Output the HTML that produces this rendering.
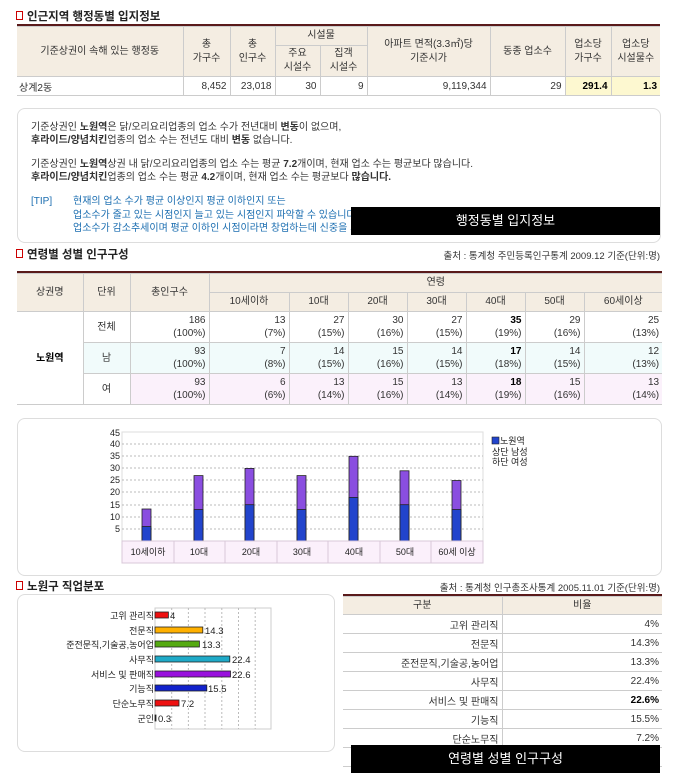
<!DOCTYPE html><html><head><meta charset="utf-8"><style>
*{margin:0;padding:0;box-sizing:border-box}
body{width:680px;height:773px;position:relative;background:#fff;font-family:"Liberation Sans","Noto Sans CJK KR",sans-serif;font-size:10px;color:#333;overflow:hidden}
.a{position:absolute}
.t{font-weight:bold;font-size:11.5px;color:#222}
.t:before{content:"";display:inline-block;width:5px;height:7px;border:1px solid #c00;background:#fff;margin-right:4px;vertical-align:0}
table{border-collapse:collapse;position:absolute;table-layout:fixed}
td{border:1px solid #ccc;font-size:10px;color:#333;overflow:hidden;white-space:nowrap}
.h td{background:#f4ede2;text-align:center;line-height:14px}
.r{text-align:right;padding-right:3px}
.blk{position:absolute;background:#000;color:#fff;font-size:13px;text-align:center}
.box{position:absolute;border:1px solid #ddd;border-radius:8px}
</style></head><body>
<div class="a t" style="left:16px;top:8px">인근지역 행정동별 입지정보</div>
<div class="a" style="left:17px;top:24px;width:643px;height:2px;background:#5a1a1a"></div>
<table style="left:17px;top:26px;width:643px">
<colgroup><col style="width:166px"><col style="width:47px"><col style="width:45px"><col style="width:45px"><col style="width:47px"><col style="width:123px"><col style="width:75px"><col style="width:46px"><col style="width:49px"></colgroup>
<tr class="h" style="height:19px"><td rowspan="2" style="border-left:0">기준상권이 속해 있는 행정동</td><td rowspan="2">총<br>가구수</td><td rowspan="2">총<br>인구수</td><td colspan="2">시설물</td><td rowspan="2">아파트 면적(3.3㎡)당<br>기준시가</td><td rowspan="2">동종 업소수</td><td rowspan="2">업소당<br>가구수</td><td rowspan="2" style="border-right:0">업소당<br>시설물수</td></tr>
<tr class="h" style="height:31px"><td>주요<br>시설수</td><td>집객<br>시설수</td></tr>
<tr style="height:19px"><td style="border-left:0;padding-left:2px">상계2동</td><td class="r">8,452</td><td class="r">23,018</td><td class="r">30</td><td class="r">9</td><td class="r">9,119,344</td><td class="r">29</td><td class="r" style="background:#fdf8d0;font-weight:bold;color:#000">291.4</td><td class="r" style="background:#fdf8d0;font-weight:bold;color:#000;border-right:0">1.3</td></tr>
</table>
<div class="box" style="left:17px;top:108px;width:644px;height:135px"></div>
<div class="a" style="left:31px;top:121px;font-size:10px;line-height:13px;color:#333">기준상권인 <b>노원역</b>은 닭/오리요리업종의 업소 수가 전년대비 <b>변동</b>이 없으며,<br><b>후라이드/양념치킨</b>업종의 업소 수는 전년도 대비 <b>변동</b> 없습니다.</div>
<div class="a" style="left:31px;top:158px;font-size:10px;line-height:13px;color:#333">기준상권인 <b>노원역</b>상권 내 닭/오리요리업종의 업소 수는 평균 <b>7.2</b>개이며, 현재 업소 수는 평균보다 많습니다.<br><b>후라이드/양념치킨</b>업종의 업소 수는 평균 <b>4.2</b>개이며, 현재 업소 수는 평균보다 <b>많습니다.</b></div>
<div class="a" style="left:31px;top:195px;font-size:10px;line-height:13.5px;color:#1a6db0">[TIP]</div>
<div class="a" style="left:73px;top:195px;font-size:10px;line-height:13.5px;color:#1a6db0">현재의 업소 수가 평균 이상인지 평균 이하인지 또는<br>업소수가 줄고 있는 시점인지 늘고 있는 시점인지 파악할 수 있습니다.<br>업소수가 감소추세이며 평균 이하인 시점이라면 창업하는데 신중을 기해</div>
<div class="blk" style="left:351px;top:207px;width:309px;height:28px;line-height:28px">행정동별 입지정보</div>

<div class="a t" style="left:16px;top:246px">연령별 성별 인구구성</div>
<div class="a" style="right:20px;top:248px;font-size:9.5px;color:#333">출처 : 통계청 주민등록인구통계 2009.12 기준(단위:명)</div>
<div class="a" style="left:17px;top:271px;width:645px;height:2px;background:#5a1a1a"></div>
<table style="left:17px;top:273px;width:645px">
<colgroup><col style="width:66px"><col style="width:47px"><col style="width:79px"><col style="width:80px"><col style="width:59px"><col style="width:59px"><col style="width:59px"><col style="width:59px"><col style="width:59px"><col style="width:78px"></colgroup>
<tr class="h" style="height:19px"><td rowspan="2" style="border-left:0">상권명</td><td rowspan="2">단위</td><td rowspan="2">총인구수</td><td colspan="7" style="border-right:0">연령</td></tr>
<tr class="h" style="height:19px"><td>10세이하</td><td>10대</td><td>20대</td><td>30대</td><td>40대</td><td>50대</td><td style="border-right:0">60세이상</td></tr>
<tr style="height:31px;line-height:13px"><td rowspan="3" style="text-align:center;font-weight:bold;color:#000;border-left:0">노원역</td><td style="text-align:center">전체</td><td class="r">186<br>(100%)</td><td class="r">13<br>(7%)</td><td class="r">27<br>(15%)</td><td class="r">30<br>(16%)</td><td class="r">27<br>(15%)</td><td class="r"><b style="color:#000">35</b><br>(19%)</td><td class="r">29<br>(16%)</td><td class="r" style="border-right:0">25<br>(13%)</td></tr>
<tr style="height:31px;line-height:13px;background:#f1fbfb"><td style="text-align:center">남</td><td class="r">93<br>(100%)</td><td class="r">7<br>(8%)</td><td class="r">14<br>(15%)</td><td class="r">15<br>(16%)</td><td class="r">14<br>(15%)</td><td class="r"><b style="color:#000">17</b><br>(18%)</td><td class="r">14<br>(15%)</td><td class="r" style="border-right:0">12<br>(13%)</td></tr>
<tr style="height:31px;line-height:13px;background:#fbf1fb"><td style="text-align:center;background:#fff">여</td><td class="r">93<br>(100%)</td><td class="r">6<br>(6%)</td><td class="r">13<br>(14%)</td><td class="r">15<br>(16%)</td><td class="r">13<br>(14%)</td><td class="r"><b style="color:#000">18</b><br>(19%)</td><td class="r">15<br>(16%)</td><td class="r" style="border-right:0">13<br>(14%)</td></tr>
</table>

<div class="box" style="left:17px;top:418px;width:645px;height:158px"></div>
<svg class="a" style="left:0;top:0" width="680" height="773" font-family="Liberation Sans,Noto Sans CJK KR,sans-serif">
<g font-size="9" fill="#222" text-anchor="end">
<rect x="122" y="432" width="361" height="109" fill="#fff" stroke="#ddd"/>
<g stroke="#bbb" stroke-dasharray="2,2">
<line x1="122" y1="444" x2="483" y2="444"/><line x1="122" y1="456" x2="483" y2="456"/><line x1="122" y1="468" x2="483" y2="468"/><line x1="122" y1="480" x2="483" y2="480"/><line x1="122" y1="492" x2="483" y2="492"/><line x1="122" y1="505" x2="483" y2="505"/><line x1="122" y1="517" x2="483" y2="517"/><line x1="122" y1="529" x2="483" y2="529"/></g>
<text x="120" y="436">45</text><text x="120" y="447">40</text><text x="120" y="459">35</text><text x="120" y="471">30</text><text x="120" y="483">25</text><text x="120" y="495">20</text><text x="120" y="508">15</text><text x="120" y="520">10</text><text x="120" y="532">5</text>
</g>
<g stroke="#222" stroke-width="0.8">
<rect x="142" y="509" width="9" height="32" fill="#8a4ee0"/><rect x="142" y="526.5" width="9" height="14.5" fill="#2244cc"/>
<rect x="194" y="475.6" width="9" height="65.4" fill="#8a4ee0"/><rect x="194" y="509.5" width="9" height="31.5" fill="#2244cc"/>
<rect x="245" y="468.4" width="9" height="72.6" fill="#8a4ee0"/><rect x="245" y="504.7" width="9" height="36.3" fill="#2244cc"/>
<rect x="297" y="475.6" width="9" height="65.4" fill="#8a4ee0"/><rect x="297" y="509.5" width="9" height="31.5" fill="#2244cc"/>
<rect x="349" y="456.3" width="9" height="84.7" fill="#8a4ee0"/><rect x="349" y="497.4" width="9" height="43.6" fill="#2244cc"/>
<rect x="400" y="470.8" width="9" height="70.2" fill="#8a4ee0"/><rect x="400" y="504.7" width="9" height="36.3" fill="#2244cc"/>
<rect x="452" y="480.5" width="9" height="60.5" fill="#8a4ee0"/><rect x="452" y="509.5" width="9" height="31.5" fill="#2244cc"/>
</g>
<g fill="#fbf0fb" stroke="#d8c8d8">
<rect x="122" y="541" width="52" height="22"/><rect x="174" y="541" width="51" height="22"/><rect x="225" y="541" width="52" height="22"/><rect x="277" y="541" width="51" height="22"/><rect x="328" y="541" width="52" height="22"/><rect x="380" y="541" width="51" height="22"/><rect x="431" y="541" width="52" height="22"/></g>
<g font-size="9" fill="#222" text-anchor="middle">
<text x="148" y="555">10세이하</text><text x="199" y="555">10대</text><text x="251" y="555">20대</text><text x="302" y="555">30대</text><text x="354" y="555">40대</text><text x="405" y="555">50대</text><text x="457" y="555">60세 이상</text></g>
<rect x="492" y="437" width="7" height="7" fill="#2244cc" stroke="#222" stroke-width="0.6"/>
<g font-size="9" fill="#222"><text x="500" y="444">노원역</text><text x="492" y="455">상단 남성</text><text x="492" y="465">하단 여성</text></g>

<rect x="155" y="608" width="116" height="121" fill="#fff" stroke="#ccc"/>
<g stroke="#bbb" stroke-dasharray="2,2"><line x1="171.7" y1="608" x2="171.7" y2="729"/><line x1="188.4" y1="608" x2="188.4" y2="729"/><line x1="205" y1="608" x2="205" y2="729"/><line x1="221.8" y1="608" x2="221.8" y2="729"/><line x1="238.5" y1="608" x2="238.5" y2="729"/><line x1="255.2" y1="608" x2="255.2" y2="729"/></g>
<g stroke="#222" stroke-width="0.8">
<rect x="155" y="612" width="13.4" height="6" fill="#ee1111"/>
<rect x="155" y="627" width="47.8" height="6" fill="#ffb000"/>
<rect x="155" y="641" width="44.4" height="6" fill="#55aa11"/>
<rect x="155" y="656" width="74.8" height="6" fill="#1faac8"/>
<rect x="155" y="671" width="75.5" height="6" fill="#9911dd"/>
<rect x="155" y="685" width="51.8" height="6" fill="#1122cc"/>
<rect x="155" y="700" width="24" height="6" fill="#ee1111"/>
<rect x="155" y="715" width="1" height="6" fill="#222"/>
</g>
<g font-size="9.5" fill="#222">
<text x="170" y="619">4</text><text x="205" y="634">14.3</text><text x="202" y="648">13.3</text><text x="232" y="663">22.4</text><text x="232" y="678">22.6</text><text x="208" y="692">15.5</text><text x="181" y="707">7.2</text><text x="158" y="722">0.3</text></g>
<g font-size="9" fill="#222" text-anchor="end">
<text x="154" y="619">고위 관리직</text><text x="154" y="634">전문직</text><text x="154" y="648">준전문직,기술공,농어업</text><text x="154" y="663">사무직</text><text x="154" y="678">서비스 및 판매직</text><text x="154" y="692">기능직</text><text x="154" y="707">단순노무직</text><text x="154" y="722">군인</text></g>
</svg>

<div class="a t" style="left:16px;top:578px">노원구 직업분포</div>
<div class="a" style="right:20px;top:580px;font-size:9.5px;color:#333">출처 : 통계청 인구총조사통계 2005.11.01 기준(단위:명)</div>
<div class="box" style="left:17px;top:594px;width:318px;height:158px"></div>
<div class="a" style="left:343px;top:594px;width:319px;height:2px;background:#5a1a1a"></div>
<table style="left:343px;top:596px;width:319px">
<colgroup><col style="width:159px"><col style="width:160px"></colgroup>
<tr class="h" style="height:18px"><td style="border-left:0">구분</td><td style="border-right:0">비율</td></tr>
<tr style="height:19px"><td class="r" style="border-left:0">고위 관리직</td><td class="r" style="border-right:0">4%</td></tr>
<tr style="height:19px"><td class="r" style="border-left:0">전문직</td><td class="r" style="border-right:0">14.3%</td></tr>
<tr style="height:19px"><td class="r" style="border-left:0">준전문직,기술공,농어업</td><td class="r" style="border-right:0">13.3%</td></tr>
<tr style="height:19px"><td class="r" style="border-left:0">사무직</td><td class="r" style="border-right:0">22.4%</td></tr>
<tr style="height:19px"><td class="r" style="border-left:0">서비스 및 판매직</td><td class="r" style="border-right:0;font-weight:bold;color:#000">22.6%</td></tr>
<tr style="height:19px"><td class="r" style="border-left:0">기능직</td><td class="r" style="border-right:0">15.5%</td></tr>
<tr style="height:19px"><td class="r" style="border-left:0">단순노무직</td><td class="r" style="border-right:0">7.2%</td></tr>
<tr style="height:19px"><td class="r" style="border-left:0">군인</td><td class="r" style="border-right:0">0.3%</td></tr>
</table>
<div class="blk" style="left:351px;top:745px;width:309px;height:28px;line-height:28px">연령별 성별 인구구성</div>
</body></html>
